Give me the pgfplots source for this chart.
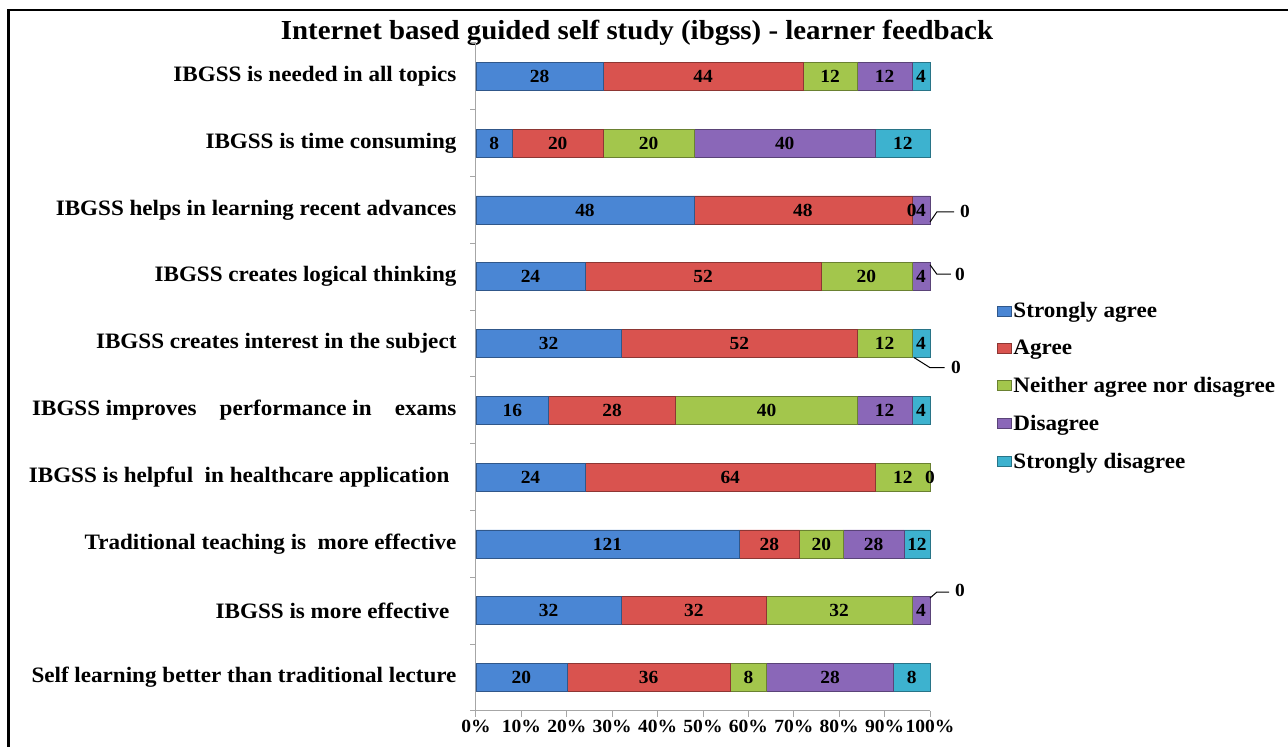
\documentclass[border=0pt]{standalone}
\usepackage{pgfplots}
\pgfplotsset{compat=1.18}
\usepackage{pgfplotstable}
\usepackage{fontspec}
\setmainfont{Liberation Serif}[FakeStretch=1.05]

\definecolor{cSA}{HTML}{4A86D4}
\definecolor{cA}{HTML}{D9534F}
\definecolor{cN}{HTML}{A3C64C}
\definecolor{cD}{HTML}{8A67B8}
\definecolor{cSD}{HTML}{3DB2CF}

\pgfplotstableread{
y sa a n d sd tot
9 28 44 12 12 4 100
8 8 20 20 40 12 100
7 48 48 0 4 0 100
6 24 52 20 4 0 100
5 32 52 12 0 4 100
4 16 28 40 12 4 100
3 24 64 12 0 0 100
2 121 28 20 28 12 209
1 32 32 32 4 0 100
0 20 36 8 28 8 100
}\data

\tikzset{bs/.style={fill=#1, draw=#1!65!black, line width=0.6pt}}

\pgfplotsset{
  geom/.style={at={(476pt,36pt)}, anchor=south west, width=454pt, height=668pt, scale only axis,
    xmin=0, xmax=100, ymin=-0.5, ymax=9.5, clip=false},
}

\begin{document}
\begin{tikzpicture}
\useasboundingbox (0,0) rectangle (1288pt,747pt);
\clip (0,0) rectangle (1288pt,747pt);
\draw[line width=2.5pt] (8.5pt,-5pt) |- (1300pt,737pt);
\node[anchor=base, font=\bfseries\fontsize{27.5}{30}\selectfont] at (637pt,707pt) {Internet based guided self study (ibgss) - learner feedback};

\begin{axis}[geom,
  xbar stacked, bar width=28pt,
  xtick={0,10,...,100},
  /pgf/number format/assume math mode=true,
  xticklabel={\pgfmathprintnumber{\tick}\%},
  ytick={0,...,9},
  yticklabels={Self learning better than traditional lecture,
    IBGSS is more effective\hspace*{7pt},
    Traditional teaching is\ \ more effective,
    IBGSS is helpful\ \ in healthcare application\hspace*{7pt},
    IBGSS improves\ \ \ \ performance in\ \ \ \ exams,
    IBGSS creates interest in the subject,
    IBGSS creates logical thinking,
    IBGSS helps in learning recent advances,
    IBGSS is time consuming,
    IBGSS is needed in all topics},
  minor ytick={-0.5,0.5,...,9.5},
  axis lines*=left,
  axis line style={draw=gray!70, line width=1pt},
  tick align=outside,
  major tick length=6pt, minor tick length=6pt,
  major x tick style={draw=gray!70, line width=1pt},
  major y tick style={draw=none},
  minor y tick style={draw=gray!70, line width=1pt},
  xticklabel style={font=\bfseries\fontsize{18.6}{20}\selectfont},
  yticklabel style={font=\bfseries\fontsize{22}{24}\selectfont, xshift=-10pt},
  legend style={at={(1.148,0.4865)}, anchor=west, draw=none, fill=none, inner sep=0pt,
    font=\bfseries\fontsize{22}{24}\selectfont, row sep=17pt, nodes={inner xsep=1.5pt}},
  legend cell align=left,
  legend image code/.code={\path[#1] (0pt,-5pt) rectangle (14pt,5pt);},
]
\addplot[bs=cSA] table[x expr=100*\thisrow{sa}/\thisrow{tot}, y=y] \data;
\addplot[bs=cA] table[x expr=100*\thisrow{a}/\thisrow{tot}, y=y] \data;
\addplot[bs=cN] table[x expr=100*\thisrow{n}/\thisrow{tot}, y=y] \data;
\addplot[bs=cD] table[x expr=100*\thisrow{d}/\thisrow{tot}, y=y] \data;
\addplot[bs=cSD] table[x expr=100*\thisrow{sd}/\thisrow{tot}, y=y] \data;
\legend{Strongly agree, Agree, Neither agree nor disagree, Disagree, Strongly disagree}
\end{axis}

\begin{axis}[geom, hide axis,
  /pgf/number format/assume math mode=true,
  nodes near coords={\pgfmathfloatifflags{\pgfplotspointmeta}{0}{}{\pgfmathprintnumber{\pgfplotspointmeta}}},
  every node near coord/.append style={anchor=center, font=\bfseries\fontsize{18.5}{20}\selectfont, text=black},
  point meta=explicit,
]
\addplot[draw=none] table[x expr=100*(\thisrow{sa}/2)/\thisrow{tot}, y=y, meta=sa] \data;
\addplot[draw=none] table[x expr=100*(\thisrow{sa}+\thisrow{a}/2)/\thisrow{tot}, y=y, meta=a] \data;
\addplot[draw=none] table[x expr=100*(\thisrow{sa}+\thisrow{a}+\thisrow{n}/2)/\thisrow{tot}, y=y, meta=n] \data;
\addplot[draw=none] table[x expr=100*(\thisrow{sa}+\thisrow{a}+\thisrow{n}+\thisrow{d}/2)/\thisrow{tot}, y=y, meta=d] \data;
\addplot[draw=none] table[x expr=100*(\thisrow{sa}+\thisrow{a}+\thisrow{n}+\thisrow{d}+\thisrow{sd}/2)/\thisrow{tot}, y=y, meta=sd] \data;
% zero labels
\begin{scope}[font=\bfseries\fontsize{18.5}{20}\selectfont]
\node at (axis cs:96,7) {0};
\node at (axis cs:100,3) {0};
\draw[line width=1pt] (axis cs:100,6.82) -- (axis cs:101.5,6.97) -- (axis cs:105.3,6.97);
\node at (axis cs:107.7,6.98) {0};
\draw[line width=1pt] (axis cs:100,6.18) -- (axis cs:101.5,6.04) -- (axis cs:104.6,6.04);
\node at (axis cs:106.6,6.03) {0};
\draw[line width=1pt] (axis cs:96.5,4.79) -- (axis cs:100,4.64) -- (axis cs:103.2,4.64);
\node at (axis cs:105.7,4.64) {0};
\draw[line width=1pt] (axis cs:100,1.19) -- (axis cs:101.5,1.28) -- (axis cs:104.2,1.28);
\node at (axis cs:106.6,1.30) {0};
\end{scope}
\end{axis}
\end{tikzpicture}
\end{document}
